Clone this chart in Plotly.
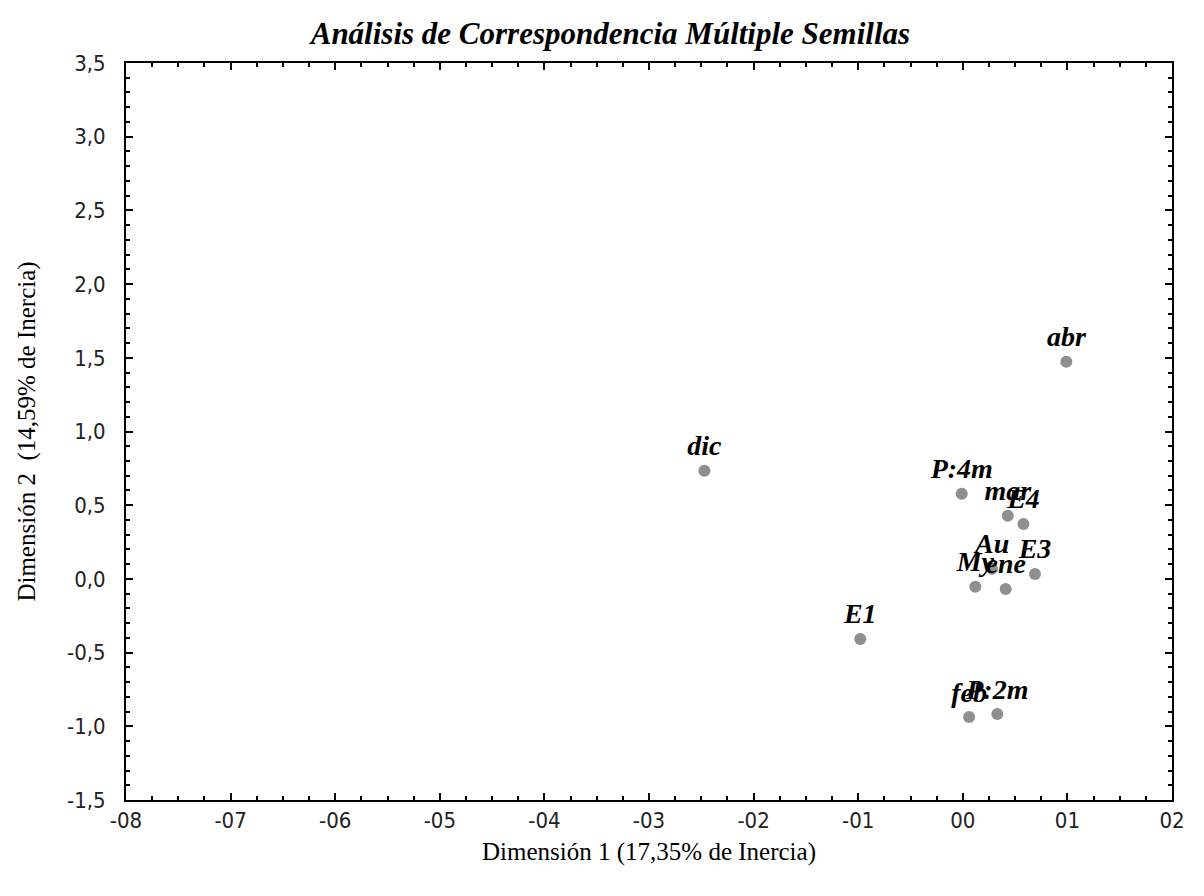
import plotly.graph_objects as go

labels = ["abr", "dic", "P:4m", "mar", "E4", "Au", "E3", "My", "ene", "E1", "feb", "P:2m"]
dim1 = [0.099, -0.247, -0.001, 0.043, 0.058, 0.028, 0.069, 0.012, 0.041, -0.098, 0.006, 0.033]
dim2 = [1.473, 0.733, 0.577, 0.428, 0.373, 0.068, 0.034, -0.054, -0.068, -0.407, -0.937, -0.917]

x_tickvals = [-0.8, -0.7, -0.6, -0.5, -0.4, -0.3, -0.2, -0.1, 0.0, 0.1, 0.2]
x_ticktext = ["-08", "-07", "-06", "-05", "-04", "-03", "-02", "-01", "00", "01", "02"]
y_tickvals = [-1.5, -1.0, -0.5, 0.0, 0.5, 1.0, 1.5, 2.0, 2.5, 3.0, 3.5]
y_ticktext = ["-1,5", "-1,0", "-0,5", "0,0", "0,5", "1,0", "1,5", "2,0", "2,5", "3,0", "3,5"]

fig = go.Figure()
fig.add_trace(go.Scatter(
    x=dim1, y=dim2, text=labels, mode="markers+text",
    textposition="top center",
    marker=dict(color="#8f8f8f", size=12),
    textfont=dict(family="Liberation Serif", size=28, color="black", weight="bold", style="italic"),
    cliponaxis=False, hoverinfo="skip",
))

tickfont = dict(family="Liberation Sans Narrow, DejaVu Sans Condensed, Liberation Sans", size=22, color="#222222")
axis_common = dict(
    showgrid=False, zeroline=False, showline=True, linecolor="black", linewidth=2,
    mirror="allticks", ticks="inside", ticklen=7, tickwidth=2, tickcolor="black",
    tickfont=tickfont, automargin=False,
)

fig.update_xaxes(
    range=[-0.8, 0.2], tickvals=x_tickvals, ticktext=x_ticktext,
    minor=dict(dtick=0.025, ticks="inside", ticklen=4, tickwidth=2, tickcolor="black"),
    ticklabelstandoff=0,
    title=dict(text="Dimensión 1 (17,35% de Inercia)",
               font=dict(family="Liberation Serif", size=25, color="black"), standoff=10),
    **axis_common,
)
fig.update_yaxes(
    range=[-1.5, 3.5], tickvals=y_tickvals, ticktext=y_ticktext,
    minor=dict(dtick=0.1, ticks="inside", ticklen=4, tickwidth=2, tickcolor="black"),
    ticklabelstandoff=14,
    title=dict(text="Dimensión 2  (14,59% de Inercia)",
               font=dict(family="Liberation Serif", size=25, color="black"), standoff=24),
    **axis_common,
)

fig.update_layout(
    width=1204, height=896,
    margin=dict(l=126, r=32, t=63, b=96),
    plot_bgcolor="white", paper_bgcolor="white",
    showlegend=False,
    title=dict(text="Análisis de Correspondencia Múltiple Semillas",
               x=0.507, xref="container", y=1 - 33 / 896, yref="container", xanchor="center", yanchor="middle",
               font=dict(family="Liberation Serif", size=31, color="black", weight="bold", style="italic")),
)

fig.write_html("out.html", config={"displayModeBar": False},
               post_script="document.body.style.margin='0';document.body.style.overflow='hidden';")
